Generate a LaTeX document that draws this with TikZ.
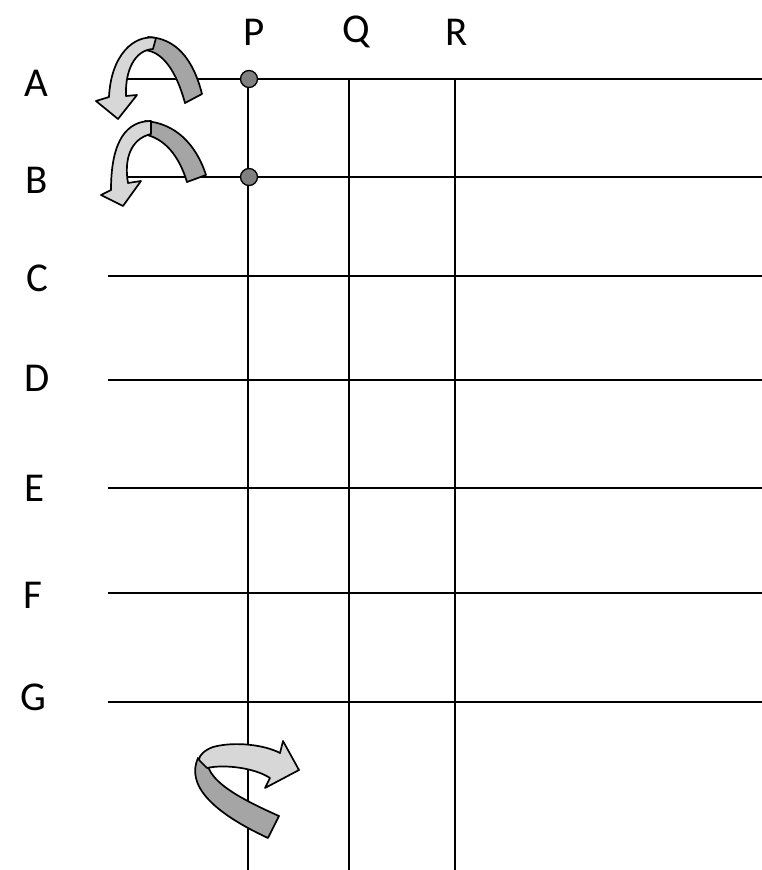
\documentclass[tikz,border=0pt]{standalone}
\usepackage{fontspec}
\setmainfont{Carlito}
\definecolor{bandDark}{RGB}{165,165,165}
\definecolor{bandLight}{RGB}{215,215,215}
\definecolor{dotGray}{RGB}{128,128,128}
\begin{document}
\begin{tikzpicture}[x=1pt,y=-1pt,
  lbl/.style={font=\fontsize{41}{44}\selectfont, inner sep=0pt, anchor=center},
  gridline/.style={line width=2.3pt, black},
  band/.style={draw=black, line width=1.7pt, line join=round},
  joint/.style={circle, draw=black, line width=1.3pt, fill=dotGray, minimum size=17pt, inner sep=0pt}]
\useasboundingbox (0,0) rectangle (762,870);
% labels
\node[lbl] (P) at (254,32) {P};
\node[lbl] (Q) at (356,32) {Q};
\node[lbl] (R) at (457,32) {R};
\node[lbl] (A) at (36,83) {A};
\node[lbl] (B) at (37,180) {B};
\node[lbl] (C) at (37,278) {C};
\node[lbl] (D) at (37,378) {D};
\node[lbl] (E) at (35,488) {E};
\node[lbl] (F) at (33,595) {F};
\node[lbl] (G) at (33,697) {G};
% coordinates
\coordinate (a0) at (127,79);  \coordinate (a1) at (762,79);
\coordinate (b0) at (127,177); \coordinate (b1) at (762,177);
\coordinate (c0) at (108,276); \coordinate (c1) at (762,276);
\coordinate (d0) at (108,380); \coordinate (d1) at (762,380);
\coordinate (e0) at (108,488); \coordinate (e1) at (762,488);
\coordinate (f0) at (108,593); \coordinate (f1) at (762,593);
\coordinate (g0) at (108,702); \coordinate (g1) at (762,702);
\coordinate (p0) at (248,79);  \coordinate (p1) at (248,870);
\coordinate (q0) at (349,79);  \coordinate (q1) at (349,870);
\coordinate (r0) at (455,79);  \coordinate (r1) at (455,870);
% grid
\foreach \s/\e in {a0/a1,b0/b1,c0/c1,d0/d1,e0/e1,f0/f1,g0/g1,p0/p1,q0/q1,r0/r1}
  \draw[gridline] (\s) -- (\e);
% joints
\node[joint] (jA) at (249,79) {};
\node[joint] (jB) at (249,177) {};
% rotation arrow A
\draw[band, fill=bandDark] (202,94) .. controls (193,58) and (175,38) .. (148,37)
  -- (144,50) .. controls (162,51) and (176,70) .. (185,103) -- cycle;
\draw[band, fill=bandLight] (156,38) .. controls (134,34) and (111,55) .. (109,97)
  -- (96,101) -- (118,119) -- (137,95) -- (126,96)
  .. controls (125,70) and (135,50) .. (153,49) -- cycle;
% rotation arrow B
\draw[band, fill=bandDark] (206,175) .. controls (196,144) and (175,123) .. (145,121)
  -- (143,134) .. controls (165,138) and (179,156) .. (187,182) -- cycle;
\draw[band, fill=bandLight] (151,121) .. controls (127,121) and (111,140) .. (111,190)
  -- (101,195) -- (123,206) -- (141,181) -- (128,183)
  .. controls (124,160) and (130,139) .. (151,134) -- cycle;
% rotation arrow about P
\draw[band, fill=bandDark] (198,758) .. controls (186,785) and (212,812) .. (268,838)
  -- (279,816) .. controls (243,800) and (213,784) .. (208,766) -- cycle;
\draw[band, fill=bandLight] (207,768) .. controls (225,764) and (255,768) .. (270,778)
  -- (265,788) -- (299,770) -- (283,741) -- (280,753)
  .. controls (265,745) and (235,741) .. (213,747)
  .. controls (205,750) and (199,755) .. (199,760) -- cycle;
\end{tikzpicture}
\end{document}
